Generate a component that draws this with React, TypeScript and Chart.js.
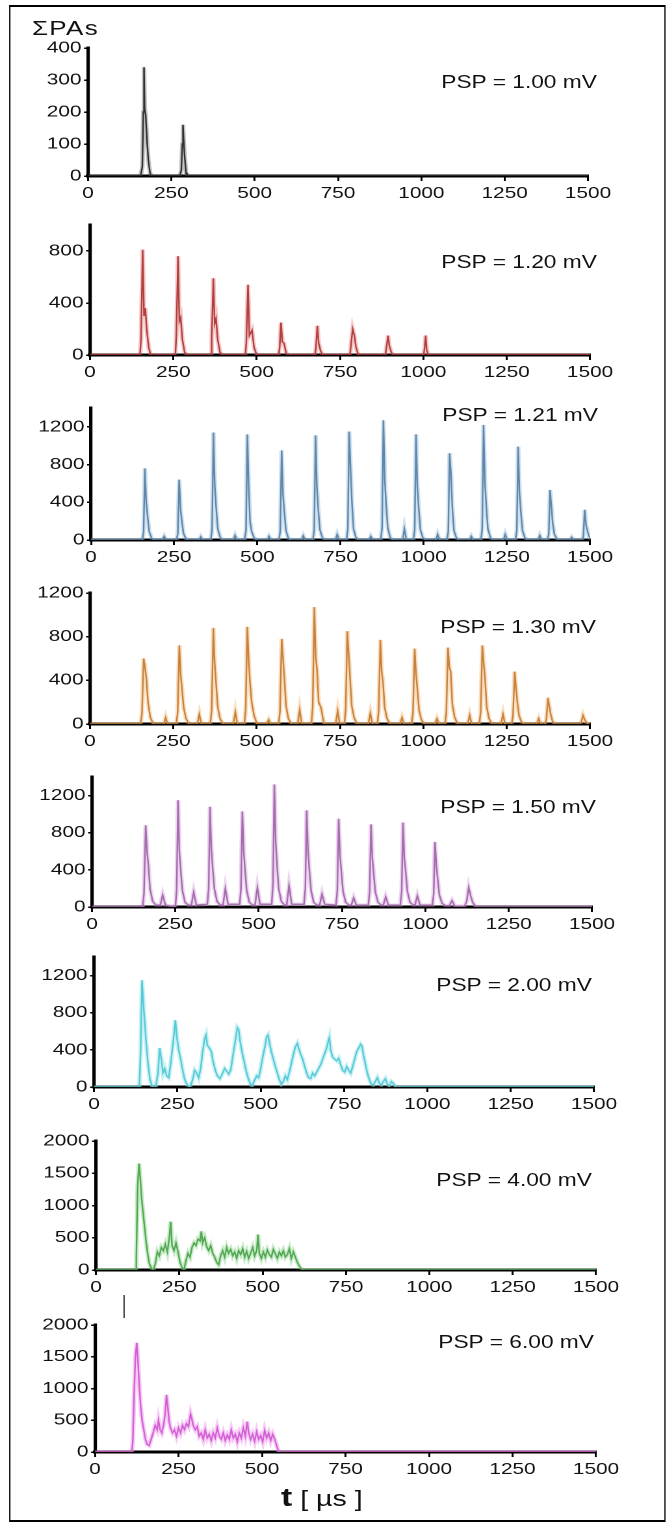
import React, { useEffect, useRef } from "react";
import { Chart, registerables } from "chart.js";

Chart.register(...registerables);

type Pt = [number, number];

// ---------- shared axis data ----------
const xTickValues = [0, 250, 500, 750, 1000, 1250, 1500];
const xTickLabels = ["0", "250", "500", "750", "1000", "1250", "1500"];
const yTicks400 = [0, 100, 200, 300, 400];
const yTicks1000 = [0, 400, 800];
const yTicks1400 = [0, 400, 800, 1200];
const yTicks2000 = [0, 500, 1000, 1500, 2000];

const pspLabels = [
  "PSP = 1.00 mV",
  "PSP = 1.20 mV",
  "PSP = 1.21 mV",
  "PSP = 1.30 mV",
  "PSP = 1.50 mV",
  "PSP = 2.00 mV",
  "PSP = 4.00 mV",
  "PSP = 6.00 mV",
];

// ---------- series (t [µs], ΣPAs) ----------
const psp100: Pt[] = [
  [0, 0], [158, 0], [163, 30], [166, 200], [168, 340], [170, 210], [173, 190], [177, 110], [181, 50], [186, 10], [190, 0],
  [276, 0], [280, 20], [283, 100], [285, 160], [287, 110], [290, 60], [294, 10], [297, 0], [1500, 0],
];

const psp120: Pt[] = [
  [0, 0], [150, 0], [153, 120], [158, 810], [162, 300], [166, 360], [170, 200], [176, 60], [182, 0],
  [256, 0], [259, 150], [264, 760], [268, 260], [272, 290], [277, 120], [284, 20], [292, 0],
  [362, 0], [365, 120], [370, 590], [374, 240], [378, 280], [383, 120], [390, 20], [398, 0],
  [466, 0], [469, 100], [474, 540], [478, 150], [486, 190], [492, 60], [500, 0],
  [566, 0], [569, 60], [573, 250], [577, 100], [582, 90], [588, 20], [594, 0],
  [675, 0], [678, 60], [682, 225], [686, 90], [692, 30], [698, 0],
  [780, 0], [783, 80], [788, 200], [793, 150], [798, 60], [805, 0],
  [886, 0], [889, 50], [894, 150], [898, 70], [904, 20], [910, 0],
  [1001, 0], [1004, 60], [1007, 150], [1010, 40], [1015, 0], [1500, 0],
];

const psp121: Pt[] = [
  [0, 0], [154, 0], [158, 80], [162, 760], [166, 400], [170, 250], [175, 90], [182, 20], [190, 0], [215, 0], [220, 40], [226, 0],
  [257, 0], [261, 70], [265, 640], [269, 330], [273, 200], [278, 70], [285, 15], [293, 0], [325, 0], [330, 35], [336, 0],
  [360, 0], [364, 120], [368, 1140], [372, 580], [376, 350], [381, 120], [388, 30], [396, 0], [428, 0], [433, 50], [439, 0],
  [462, 0], [466, 110], [470, 1120], [474, 560], [478, 200], [483, 90], [490, 25], [498, 0], [530, 0], [535, 40], [541, 0],
  [565, 0], [569, 100], [573, 950], [577, 480], [581, 300], [586, 100], [593, 20], [601, 0], [633, 0], [638, 45], [644, 0],
  [667, 0], [671, 110], [675, 1110], [679, 560], [683, 330], [688, 110], [695, 30], [703, 0], [735, 0], [740, 60], [746, 0],
  [768, 0], [772, 120], [776, 1150], [780, 780], [784, 420], [789, 120], [796, 30], [804, 0], [836, 0], [841, 40], [847, 0],
  [871, 0], [875, 130], [879, 1270], [883, 640], [887, 380], [892, 130], [899, 30], [907, 0], [937, 0], [942, 120], [948, 0],
  [969, 0], [973, 110], [977, 1120], [981, 560], [985, 340], [990, 110], [997, 30], [1005, 0], [1037, 0], [1042, 60], [1048, 0],
  [1070, 0], [1074, 90], [1078, 920], [1082, 700], [1086, 350], [1091, 100], [1098, 25], [1106, 0], [1138, 0], [1143, 40], [1149, 0],
  [1172, 0], [1176, 120], [1180, 1220], [1184, 620], [1188, 370], [1193, 120], [1200, 30], [1208, 0], [1240, 0], [1245, 60], [1251, 0],
  [1276, 0], [1280, 100], [1284, 990], [1288, 500], [1292, 300], [1297, 100], [1304, 25], [1312, 0], [1344, 0], [1349, 50], [1355, 0],
  [1372, 0], [1376, 60], [1380, 530], [1384, 350], [1388, 170], [1393, 60], [1400, 15], [1408, 0], [1440, 0], [1445, 30], [1451, 0],
  [1476, 0], [1480, 40], [1484, 320], [1488, 160], [1492, 100], [1497, 40], [1500, 20],
];

const psp130: Pt[] = [
  [0, 0], [152, 0], [156, 100], [161, 600], [165, 520], [169, 420], [174, 200], [181, 60], [190, 0], [222, 0], [227, 60], [233, 0],
  [259, 0], [263, 110], [268, 720], [272, 450], [276, 320], [281, 150], [288, 50], [297, 0], [322, 0], [328, 90], [334, 0],
  [361, 0], [365, 130], [370, 880], [374, 560], [378, 380], [383, 160], [390, 50], [399, 0], [430, 0], [436, 110], [442, 0],
  [463, 0], [467, 130], [472, 890], [476, 580], [480, 380], [485, 200], [492, 80], [501, 0], [530, 0], [536, 40], [542, 0],
  [566, 0], [570, 120], [575, 780], [579, 600], [583, 420], [588, 170], [595, 50], [604, 0], [623, 0], [629, 130], [635, 0],
  [664, 0], [668, 150], [673, 1070], [677, 620], [681, 500], [686, 200], [693, 150], [702, 0], [737, 0], [743, 120], [749, 0],
  [763, 0], [767, 130], [772, 850], [776, 640], [780, 430], [785, 170], [792, 60], [801, 0], [835, 0], [841, 100], [847, 0],
  [862, 0], [866, 120], [871, 770], [875, 480], [879, 380], [884, 150], [891, 50], [900, 0], [930, 0], [936, 60], [942, 0],
  [965, 0], [969, 110], [974, 690], [978, 460], [982, 320], [987, 130], [994, 40], [1003, 0], [1035, 0], [1041, 50], [1047, 0],
  [1065, 0], [1069, 110], [1074, 700], [1078, 520], [1082, 480], [1087, 180], [1094, 60], [1103, 0], [1133, 0], [1139, 80], [1145, 0],
  [1168, 0], [1172, 110], [1177, 720], [1181, 560], [1185, 420], [1190, 160], [1197, 50], [1206, 0], [1233, 0], [1239, 90], [1245, 0],
  [1265, 0], [1269, 80], [1274, 480], [1278, 330], [1282, 200], [1287, 80], [1294, 20], [1303, 0], [1340, 0], [1346, 50], [1352, 0],
  [1365, 0], [1369, 40], [1374, 240], [1378, 160], [1382, 90], [1387, 30], [1394, 0],
  [1470, 0], [1474, 20], [1479, 80], [1484, 40], [1490, 10], [1496, 0], [1500, 0],
];

const psp150: Pt[] = [
  [0, 0], [148, 0], [152, 0], [156, 150], [161, 880], [165, 600], [169, 450], [174, 200], [182, 60], [192, 20], [205, 20], [212, 130], [220, 20],
  [250, 0], [254, 180], [258, 1150], [262, 600], [266, 400], [271, 180], [279, 50], [289, 20], [298, 20], [305, 160], [313, 20],
  [346, 30], [350, 200], [354, 1080], [358, 620], [362, 420], [367, 200], [375, 60], [385, 20], [393, 20], [400, 200], [408, 30],
  [443, 30], [447, 200], [451, 1030], [455, 600], [459, 400], [464, 180], [472, 50], [482, 20], [489, 20], [496, 210], [504, 30],
  [539, 30], [543, 250], [547, 1320], [551, 700], [555, 450], [560, 200], [568, 60], [578, 20], [584, 20], [591, 230], [599, 30],
  [636, 30], [640, 200], [644, 1040], [648, 600], [652, 400], [657, 180], [665, 50], [675, 20], [683, 20], [690, 140], [698, 30],
  [732, 20], [736, 180], [740, 950], [744, 550], [748, 380], [753, 170], [761, 50], [771, 20], [778, 20], [785, 100], [793, 20],
  [829, 20], [833, 170], [837, 890], [841, 520], [845, 360], [850, 160], [858, 50], [868, 20], [874, 20], [881, 110], [889, 20],
  [925, 20], [929, 170], [933, 910], [937, 520], [941, 380], [946, 170], [954, 50], [964, 20], [969, 20], [976, 120], [984, 20],
  [1021, 20], [1025, 140], [1029, 700], [1033, 450], [1037, 300], [1042, 130], [1050, 40], [1060, 15], [1072, 15], [1080, 70], [1088, 10],
  [1118, 10], [1124, 60], [1130, 210], [1136, 120], [1142, 50], [1150, 10], [1158, 0], [1500, 0],
];

const psp200: Pt[] = [
  [0, 0], [136, 0], [140, 400], [144, 1150], [148, 900], [152, 700], [156, 500], [162, 250], [168, 80], [175, 0], [185, 0],
  [192, 150], [197, 420], [202, 300], [207, 150], [212, 200], [218, 120], [224, 100], [230, 250], [238, 500], [244, 720],
  [248, 550], [254, 400], [260, 300], [266, 180], [272, 80], [280, 20], [288, 0], [296, 80], [302, 180], [308, 150],
  [314, 100], [320, 200], [326, 380], [332, 520], [336, 560], [340, 450], [346, 420], [352, 380], [358, 260], [364, 180],
  [370, 120], [378, 90], [386, 150], [392, 200], [398, 170], [404, 140], [410, 180], [416, 320], [424, 500], [430, 640],
  [434, 620], [438, 500], [444, 380], [450, 280], [456, 180], [462, 100], [468, 40], [474, 10], [480, 60], [488, 120],
  [494, 100], [500, 200], [506, 320], [512, 420], [518, 540], [522, 560], [526, 480], [532, 380], [538, 300], [544, 220],
  [550, 150], [556, 80], [562, 30], [568, 60], [574, 120], [580, 80], [586, 160], [592, 250], [598, 350], [604, 430],
  [610, 470], [614, 420], [620, 350], [626, 300], [632, 220], [638, 150], [644, 100], [650, 90], [656, 150], [662, 120],
  [668, 160], [674, 200], [680, 240], [686, 300], [692, 360], [698, 420], [702, 480], [706, 530], [710, 400], [716, 320],
  [722, 300], [728, 280], [734, 310], [740, 240], [746, 180], [752, 160], [758, 220], [764, 180], [770, 150], [776, 220],
  [782, 300], [788, 380], [794, 420], [800, 460], [804, 440], [808, 350], [814, 250], [820, 150], [826, 80], [832, 30],
  [838, 20], [844, 60], [850, 100], [856, 40], [862, 20], [868, 60], [874, 90], [880, 30], [886, 10], [892, 60], [898, 40],
  [905, 0], [1500, 0],
];

const psp400: Pt[] = [
  [0, 0], [118, 0], [121, 200], [125, 1300], [129, 1650], [133, 1400], [137, 1100], [141, 900], [145, 700], [150, 450],
  [155, 250], [160, 100], [166, 30], [172, 0], [178, 100], [184, 280], [190, 220], [196, 350], [202, 300], [208, 400],
  [214, 280], [220, 500], [224, 750], [228, 380], [234, 300], [240, 420], [246, 280], [252, 120], [258, 40], [264, 0],
  [270, 150], [276, 260], [282, 200], [288, 350], [294, 420], [300, 380], [306, 480], [312, 450], [316, 600], [320, 420],
  [326, 500], [332, 360], [338, 300], [344, 380], [350, 260], [356, 200], [362, 120], [368, 80], [374, 220], [380, 300],
  [386, 200], [392, 350], [398, 260], [404, 320], [410, 220], [416, 280], [422, 180], [428, 300], [434, 240], [440, 330],
  [446, 200], [452, 290], [458, 180], [464, 260], [470, 350], [476, 220], [482, 300], [486, 550], [490, 260], [496, 180],
  [502, 280], [508, 200], [514, 310], [520, 240], [526, 200], [532, 320], [538, 250], [544, 180], [550, 280], [556, 220],
  [562, 300], [568, 200], [574, 240], [580, 330], [586, 180], [592, 280], [598, 200], [604, 120], [610, 60], [616, 20],
  [622, 0], [1500, 0],
];

const psp600: Pt[] = [
  [0, 0], [110, 0], [113, 150], [117, 900], [121, 1500], [125, 1720], [129, 1400], [133, 1000], [137, 700], [141, 500],
  [146, 350], [151, 200], [156, 120], [162, 100], [168, 200], [174, 300], [180, 420], [186, 350], [190, 500], [195, 350],
  [200, 300], [205, 420], [210, 600], [214, 900], [218, 700], [222, 480], [226, 380], [232, 300], [238, 350], [244, 250],
  [250, 380], [256, 300], [262, 420], [268, 350], [274, 450], [280, 400], [286, 600], [290, 520], [294, 420], [300, 350],
  [306, 400], [312, 250], [318, 300], [324, 200], [330, 350], [336, 220], [342, 280], [348, 180], [354, 300], [360, 220],
  [366, 380], [372, 250], [378, 200], [384, 300], [390, 180], [396, 270], [402, 200], [408, 350], [414, 220], [420, 280],
  [426, 160], [432, 300], [438, 220], [444, 380], [450, 250], [456, 480], [460, 300], [466, 200], [472, 280], [478, 170],
  [484, 320], [490, 200], [496, 260], [502, 160], [508, 340], [514, 220], [520, 300], [526, 180], [532, 280], [538, 200],
  [544, 100], [550, 0], [1500, 0],
];

// ---------- layout (reference pixels) ----------
const K = 1.3; // horizontal stretch of the original figure
const FIG_W = 669;
const FIG_H = 1526;
const FONT = "'Liberation Sans', Arial, 'DejaVu Sans', sans-serif";

interface PanelSpec {
  data: Pt[];
  label: string;
  yMax: number;
  yTicks: number[];
  core: string;
  halo: string;
  left: number;
  right: number;
  top: number;
  zero: number;
  labelY: number;
  labelRight: number;
}

const panels: PanelSpec[] = [
  { data: psp100, label: pspLabels[0], yMax: 400, yTicks: yTicks400, core: "#1a1a1a", halo: "rgba(90,90,90,0.35)", left: 88, right: 588, top: 48, zero: 176, labelY: 82, labelRight: 597 },
  { data: psp120, label: pspLabels[1], yMax: 1000, yTicks: yTicks1000, core: "#9a2a2a", halo: "rgba(225,100,100,0.35)", left: 90, right: 590, top: 225, zero: 355, labelY: 262, labelRight: 597 },
  { data: psp121, label: pspLabels[2], yMax: 1400, yTicks: yTicks1400, core: "#4d6f8e", halo: "rgba(130,175,215,0.38)", left: 91, right: 590, top: 408, zero: 540, labelY: 415, labelRight: 598 },
  { data: psp130, label: pspLabels[3], yMax: 1200, yTicks: yTicks1400, core: "#b06a2c", halo: "rgba(240,170,90,0.38)", left: 90, right: 590, top: 593, zero: 724, labelY: 627, labelRight: 596 },
  { data: psp150, label: pspLabels[4], yMax: 1400, yTicks: yTicks1400, core: "#8e5094", halo: "rgba(205,150,215,0.4)", left: 92, right: 592, top: 777, zero: 907, labelY: 807, labelRight: 596 },
  { data: psp200, label: pspLabels[5], yMax: 1400, yTicks: yTicks1400, core: "#35b8c4", halo: "rgba(130,225,235,0.45)", left: 94, right: 594, top: 957, zero: 1087, labelY: 985, labelRight: 592 },
  { data: psp400, label: pspLabels[6], yMax: 2000, yTicks: yTicks2000, core: "#3a8f3a", halo: "rgba(120,205,120,0.4)", left: 96, right: 596, top: 1141, zero: 1270, labelY: 1180, labelRight: 592 },
  { data: psp600, label: pspLabels[7], yMax: 2000, yTicks: yTicks2000, core: "#c23ec2", halo: "rgba(235,140,235,0.45)", left: 95, right: 596, top: 1325, zero: 1452, labelY: 1342, labelRight: 594 },
];

const PAD_TOP = 14;
const X_H = 30;
const CANVAS_W = Math.round(FIG_W / K);

function Panel({ p }: { p: PanelSpec }) {
  const ref = useRef<HTMLCanvasElement>(null);
  const canvasTop = p.top - PAD_TOP;
  const h = p.zero - canvasTop + X_H;

  useEffect(() => {
    const pts = p.data.map(([x, y]) => ({ x, y }));
    const chart = new Chart(ref.current as HTMLCanvasElement, {
      type: "line",
      data: {
        datasets: [
          { data: pts, borderColor: p.halo, borderWidth: 3.5, pointRadius: 0, tension: 0, fill: false },
          { data: pts, borderColor: p.core, borderWidth: 1.2, pointRadius: 0, tension: 0, fill: false },
        ],
      },
      options: {
        responsive: false,
        animation: false,
        devicePixelRatio: 2,
        layout: { padding: { left: 0, top: PAD_TOP, bottom: 0, right: CANVAS_W - p.right / K } },
        plugins: { legend: { display: false }, tooltip: { enabled: false } },
        scales: {
          x: {
            type: "linear",
            min: 0,
            max: 1500,
            afterBuildTicks: (s: any) => {
              s.ticks = xTickValues.map((v) => ({ value: v }));
            },
            afterFit: (s: any) => {
              s.height = X_H;
            },
            ticks: {
              autoSkip: false,
              maxRotation: 0,
              padding: 3,
              color: "#111",
              font: { family: FONT, size: 16 },
              callback: (_v: any, i: number) => xTickLabels[i],
            },
            grid: { display: true, drawOnChartArea: false, drawTicks: true, tickLength: 5, color: "#000", lineWidth: 1.5 },
            border: { display: true, color: "#000", width: 3 },
          },
          y: {
            type: "linear",
            min: 0,
            max: p.yMax,
            afterBuildTicks: (s: any) => {
              s.ticks = p.yTicks.map((v) => ({ value: v }));
            },
            afterFit: (s: any) => {
              s.width = p.left / K;
            },
            ticks: {
              autoSkip: false,
              padding: 2,
              color: "#111",
              font: { family: FONT, size: 16 },
              callback: (v: any) => String(v),
            },
            grid: { display: true, drawOnChartArea: false, drawTicks: true, tickLength: 3, color: "#000", lineWidth: 1.5 },
            border: { display: true, color: "#000", width: 2.6 },
          },
        },
      },
    });
    return () => chart.destroy();
  }, [p]);

  return (
    <canvas
      ref={ref}
      width={CANVAS_W}
      height={h}
      style={{ position: "absolute", left: 0, top: canvasTop, width: CANVAS_W, height: h }}
    />
  );
}

export default function App() {
  return (
    <div style={{ position: "absolute", left: 0, top: 0, width: FIG_W, height: FIG_H, background: "#fff", overflow: "hidden" }}>
      <div
        style={{
          position: "absolute",
          left: 0,
          top: 0,
          width: CANVAS_W,
          height: FIG_H,
          transform: `scaleX(${K})`,
          transformOrigin: "0 0",
          fontFamily: FONT,
          color: "#111",
        }}
      >
        <div
          style={{
            position: "absolute",
            left: 9.5 / K,
            top: 5,
            width: (665.5 - 9.5) / K,
            height: 1517,
            boxSizing: "border-box",
            borderStyle: "solid",
            borderColor: "#000",
            borderTopWidth: 2,
            borderBottomWidth: 2,
            borderLeftWidth: 1.6,
            borderRightWidth: 1.6,
          }}
        />
        {panels.map((p, i) => (
          <Panel key={i} p={p} />
        ))}
        {panels.map((p, i) => (
          <div
            key={"l" + i}
            style={{
              position: "absolute",
              left: 0,
              width: p.labelRight / K,
              top: p.labelY - 9,
              fontSize: 17.5,
              lineHeight: "18px",
              textAlign: "right",
              whiteSpace: "nowrap",
            }}
          >
            {p.label}
          </div>
        ))}
        <div
          style={{
            position: "absolute",
            left: 32 / K,
            top: 17,
            fontSize: 20,
            lineHeight: "22px",
            letterSpacing: 1,
            whiteSpace: "nowrap",
          }}
        >
          ΣPAs
        </div>
        <div
          style={{
            position: "absolute",
            left: 123 / K,
            top: 1295,
            width: 1.6,
            height: 23,
            background: "#222",
          }}
        />
        <div
          style={{
            position: "absolute",
            left: 281 / K,
            top: 1483,
            lineHeight: "28px",
            whiteSpace: "pre",
          }}
        >
          <span style={{ fontWeight: "bold", fontSize: 26 }}>t</span>
          <span style={{ fontSize: 22 }}> [ µs ]</span>
        </div>
      </div>
    </div>
  );
}
